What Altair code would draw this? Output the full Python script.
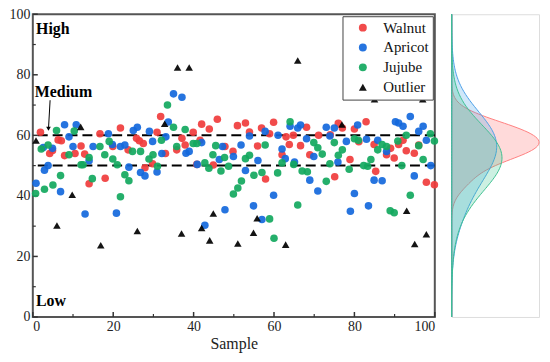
import altair as alt
import pandas as pd

# ---------------- data ----------------
walnut_x = [1.9, 4.2, 4.9, 6.3, 7.1, 7.9, 10.5, 12, 12.9, 14, 16.7,
            18, 19.9, 21.8, 23.7, 25.8, 26.5, 27.5, 27.9, 29.8, 30.9, 31.8, 33,
            35.8, 37.1, 37.9, 39.9, 40.8, 41.6, 42, 43.9, 44.9, 45.9, 47.8,
            49.8, 50.9, 52.9, 53.9, 55.9, 56.9, 57.9, 58.9, 59.9, 62, 63, 63.8, 64.8, 66.6,
            68.1, 68.9, 71.1, 74, 75.1, 76, 77, 78.9, 80, 81.1, 82.9,
            84.9, 85.3, 88, 89, 89.9, 91, 92.1, 92.9, 94.9, 96, 97.9, 99.9]
walnut_y = [61, 54, 55, 58.5, 58.2, 53.3, 54, 56.5, 53.8, 44, 60.5,
            45.8, 56.3, 62.4, 55.2, 59, 58.2, 57.3, 49.3, 50.6, 61, 66.2, 54,
            55.2, 59, 56.8, 61, 50.4, 58.4, 63.7, 62.1, 50.2, 65.3, 56.3,
            54.7, 63.2, 64.1, 61.1, 56.5, 62.4, 45.6, 60.5, 64.3, 53.6, 59.5, 57, 60, 56.6,
            62.7, 53.6, 60, 60.2, 46.3, 64, 62.4, 52, 62.1, 57.9, 64.5,
            57, 48.1, 53.6, 55.7, 52.5, 57, 58.4, 54.9, 54.1, 56.8, 44.5, 43.7]

apricot_x = [0.8, 2.6, 2.9, 3.8, 4.9, 6.9, 7.9, 9, 10, 10.8, 13, 14, 15,
             18.8, 19.8, 20.8, 21.8, 22.9, 23.9, 25, 26, 26.8, 27.9, 29, 29.8, 30.9, 32.1,
             35, 37.1, 33.7, 33.1, 38.1, 38.9, 40.9, 42, 42.8, 46.4, 47.2, 47.8, 49.9,
             51.8, 52.9, 53.9, 54.9, 56, 57, 57.8, 59.9, 61, 62, 62.8, 64, 65.1, 65.9,
             66.6, 68.1, 68.9, 69.9, 70.9, 73, 73.9, 75, 75.9, 78, 79, 80, 80.8, 83, 83.5,
             84.9, 85.8, 86.9, 88, 90.2, 91, 92.1, 93.9, 94.9, 96, 97.1, 97.9, 99]
apricot_y = [44.2, 56, 48.5, 50, 55.7, 41.4, 63.5, 59.5, 56.3, 63.5, 34, 51.6, 56.3,
             60.5, 57, 34.3, 56.3, 56.8, 49.5, 61.6, 62.7, 47.7, 46.6, 61.3, 58, 47.9, 54,
             73.7, 72.6, 64.4, 59.5, 54.1, 54.7, 50.4, 57.6, 30.3, 52, 56.3, 35.4, 53,
             56.8, 48.4, 59.8, 36.7, 51.7, 32.2, 61.3, 40.2, 60, 55.5, 52.3, 63, 51.2, 62.4,
             63.4, 58.9, 45.2, 53, 41.6, 62.7, 59.8, 62.4, 51.2, 58, 34.9, 40.8, 63.4, 58.7, 36.7,
             45.2, 58.4, 45, 54.7, 64.5, 64.1, 63, 66.2, 46.6, 61.3, 63, 58.4, 50]

jujube_x = [0.7, 2.1, 2.9, 3.8, 5, 5.9, 6.9, 9, 10.3, 12, 12.5, 14, 14.8,
            16.7, 17.9, 19, 19.9, 21, 21.8, 22.9, 23.9, 24.8, 26.8, 28.9, 29.9, 31, 32, 33.5,
            35, 37.9, 35.8, 39.9, 40.8, 42.8, 43.8, 44.8, 45.5, 46.8, 47.7, 48.7,
            49.9, 51, 51.9, 52.9, 53.9, 55, 57, 57.8, 58.9, 60, 60.9, 62, 64, 64.9, 65.9, 67,
            68.3, 69.9, 70.9, 72, 73, 73.9, 75, 76, 77, 78.7, 80, 81, 82.3,
            83.3, 84.1, 85.8, 86.9, 88, 88.9, 89.9, 90.8, 91.8, 92.9, 93.9, 96, 97.1, 98.9, 99.9]
jujube_y = [40.8, 55.5, 42.2, 56.8, 43.6, 61.6, 46.7, 53.6, 61.4, 50.3, 50.3, 52.7, 45.7,
            56.3, 53.6, 58, 52.2, 50.3, 39.7, 47, 45, 54.7, 54.7, 52.2, 53.6, 49.8, 58.4, 70,
            62.7, 61.9, 56.3, 57.3, 57.3, 50.9, 49.1, 53.6, 56.6, 48.2, 52.7, 49.8,
            40.6, 42.6, 44.9, 52.3, 53.4, 46.8, 47.7, 56.8, 32.4, 26, 47.6, 50.9, 64.5, 50.4, 37, 48.2,
            48, 57.6, 55.9, 53.8, 44.8, 50.6, 57.6, 53.4, 55.2, 48.8, 58.9, 58.4, 50,
            49.8, 52, 55.2, 57, 56.3, 35.1, 34.4, 58.1, 50, 60, 40.2, 56.6, 52, 60.5, 58.1]

outlier_x = [0.8, 6, 9.8, 11.9, 16.9, 26, 32.8, 36, 37, 38.9, 42, 44, 44.9, 51, 54.9, 55.8,
             62.9, 65.9, 76.9, 85, 93, 95, 97, 97.9]
outlier_y = [58.3, 30.2, 40.4, 62.8, 23.7, 28.4, 63.8, 82.4, 27.6, 82.4, 29.4, 25.3, 34.2, 24.3,
             27.8, 32.6, 23.9, 84.7, 63.6, 71.9, 35.1, 24.1, 71.9, 27.3]

series_names = ["Walnut", "Apricot", "Jujube", "Outlier"]
series_colors = ["#F03C3C", "#1468DC", "#12A85E", "#000000"]
series_shapes = ["circle", "circle", "circle", "triangle-up"]

ref_levels = [50, 60]
label_text = ["High", "Medium", "Low"]
label_x = [0.8, 0.5, 0.8]
label_y = [95.2, 74.2, 5.3]
arrow_x = [4.3]
arrow_y = [71.6]
arrow_x2 = [3.9]
arrow_y2 = [62.2]

major_ticks = [0, 20, 40, 60, 80, 100]
minor_ticks = [10, 30, 50, 70, 90]

# ---------------- tables ----------------
frames = []
for name, xs_, ys_ in [("Walnut", walnut_x, walnut_y), ("Apricot", apricot_x, apricot_y),
                       ("Jujube", jujube_x, jujube_y), ("Outlier", outlier_x, outlier_y)]:
    frames.append(pd.DataFrame({"x": xs_, "y": ys_, "series": name}))
pts = pd.concat(frames, ignore_index=True)

W, H = 405, 305
FONT = "Liberation Serif"
xs = alt.Scale(domain=[0, 100], nice=False)
ys = alt.Scale(domain=[0, 100], nice=False)

legend_cfg = dict(title=None, orient="top-right", offset=2, padding=4,
                  strokeColor="#444", fillColor="white",
                  labelFont=FONT, labelFontSize=15, labelColor="#111",
                  symbolSize=64, rowPadding=4, symbolOffset=9,
                  labelOffset=13, symbolStrokeWidth=0)

points = alt.Chart(pts).mark_point(filled=True, size=58, opacity=0.92, strokeWidth=0).encode(
    x=alt.X("x:Q", scale=xs, title="Sample",
            axis=alt.Axis(values=major_ticks, ticks=False, domain=False, grid=False,
                          labelFont=FONT, labelFontSize=14, labelColor="#222", labelPadding=3,
                          titleFont=FONT, titleFontSize=16, titleFontWeight="normal",
                          titleColor="#222", titlePadding=2)),
    y=alt.Y("y:Q", scale=ys, title=None,
            axis=alt.Axis(values=major_ticks, ticks=False, domain=False, grid=False,
                          labelFont=FONT, labelFontSize=14, labelColor="#222", labelPadding=3)),
    color=alt.Color("series:N", scale=alt.Scale(domain=series_names, range=series_colors),
                    legend=alt.Legend(**legend_cfg)),
    shape=alt.Shape("series:N", scale=alt.Scale(domain=series_names, range=series_shapes),
                    legend=alt.Legend(**legend_cfg)),
)

refs = alt.Chart(pd.DataFrame({"y": ref_levels})).mark_rule(
    color="black", strokeWidth=2, strokeDash=[10, 5]).encode(y=alt.Y("y:Q", scale=ys))

labels = alt.Chart(pd.DataFrame({"t": label_text, "x": label_x, "y": label_y})).mark_text(
    align="left", baseline="middle", font=FONT, fontSize=16, fontWeight="bold", color="black"
).encode(x=alt.X("x:Q", scale=xs), y=alt.Y("y:Q", scale=ys), text="t:N")

arrow_df = pd.DataFrame({"x": arrow_x, "y": arrow_y, "x2": arrow_x2, "y2": arrow_y2})
arrow_line = alt.Chart(arrow_df).mark_rule(color="black", strokeWidth=1).encode(
    x=alt.X("x:Q", scale=xs), y=alt.Y("y:Q", scale=ys), x2="x2:Q", y2="y2:Q")
arrow_head = alt.Chart(arrow_df).mark_point(shape="triangle-down", filled=True, size=22,
                                            color="black", opacity=1).encode(
    x=alt.X("x2:Q", scale=xs), y=alt.Y("y2:Q", scale=ys))

xt_major = alt.Chart(pd.DataFrame({"t": major_ticks})).mark_rule(color="#333", strokeWidth=1.5).encode(
    x=alt.X("t:Q", scale=xs), y=alt.value(H), y2=alt.value(H - 5))
xt_minor = alt.Chart(pd.DataFrame({"t": minor_ticks})).mark_rule(color="#333", strokeWidth=1.2).encode(
    x=alt.X("t:Q", scale=xs), y=alt.value(H), y2=alt.value(H - 3))
yt_major = alt.Chart(pd.DataFrame({"t": major_ticks})).mark_rule(color="#333", strokeWidth=1.5).encode(
    y=alt.Y("t:Q", scale=ys), x=alt.value(0), x2=alt.value(5))
yt_minor = alt.Chart(pd.DataFrame({"t": minor_ticks})).mark_rule(color="#333", strokeWidth=1.2).encode(
    y=alt.Y("t:Q", scale=ys), x=alt.value(0), x2=alt.value(3))

main = alt.layer(xt_major, xt_minor, yt_major, yt_minor, refs, points, labels,
                 arrow_line, arrow_head).properties(
    width=W, height=H, view=alt.ViewBackground(stroke="#555", strokeWidth=2))

# ---------------- marginal densities ----------------
dens_fill = {"Walnut": "#FF6A6A", "Apricot": "#3F9FE8", "Jujube": "#35C48A"}
dens_line = {"Walnut": "#FF8080", "Apricot": "#4A9EE8", "Jujube": "#3DBF90"}
dens_bw = {"Walnut": 4.0, "Apricot": 9.0, "Jujube": 9.0}
dscale = alt.Scale(zero=True, nice=False)
dens_layers = []
for name in ["Walnut", "Apricot", "Jujube"]:
    dens_layers.append(
        alt.Chart(pts).transform_filter(alt.datum.series == name)
        .transform_density("y", as_=["v", "density"], extent=[0, 100],
                           bandwidth=dens_bw[name], steps=200)
        .mark_area(orient="horizontal", fill=dens_fill[name], fillOpacity=0.25,
                   stroke=dens_line[name], strokeWidth=1)
        .encode(y=alt.Y("v:Q", scale=ys, axis=None),
                x=alt.X("density:Q", scale=dscale, axis=None))
    )
dens = alt.layer(*dens_layers).properties(width=88, height=H)

chart = alt.hconcat(main, dens, spacing=9).resolve_legend(
    color="independent", shape="independent"
).properties(
    padding={"left": 0, "top": -3, "right": 0, "bottom": -1}
).configure_view(strokeWidth=0).configure(font=FONT)

chart.save("out.html", embed_options={"renderer": "svg", "actions": False})
